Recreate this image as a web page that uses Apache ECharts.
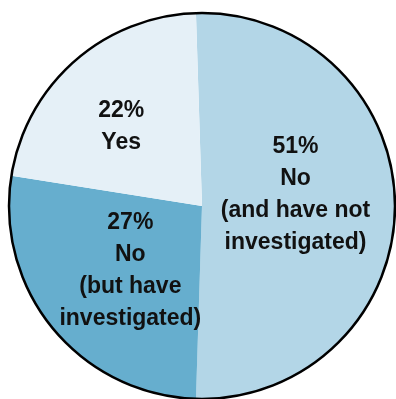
<!DOCTYPE html>
<html>
<head>
<meta charset="utf-8">
<script src="https://cdn.jsdelivr.net/npm/echarts@6/dist/echarts.min.js"></script>
<style>
  html, body { margin: 0; padding: 0; background: #ffffff; }
  #chart { width: 396px; height: 399px; }
</style>
</head>
<body>
<div id="chart"></div>
<script>
// Survey answers, clockwise from twelve o'clock
const categories = ['No\n(and have not\ninvestigated)', 'No\n(but have\ninvestigated)', 'Yes'];
const percents = [51, 27, 22];
const sliceColors = ['#b3d6e7', '#66aece', '#e5f0f7'];

const chart = echarts.init(document.getElementById('chart'), null, { renderer: 'canvas' });

const pieData = categories.map((name, i) => ({
  name: name,
  value: percents[i],
  itemStyle: { color: sliceColors[i] }
}));

// nudge each label block a little from the slice's mid-radius point
const labelNudge = [[-6, -11], [5, 1], [-15, -5]];

chart.setOption({
  animation: false,
  backgroundColor: '#ffffff',
  series: [
    {
      type: 'pie',
      center: [202, 206],
      radius: 193,
      startAngle: 91.8,
      clockwise: true,
      silent: true,
      data: pieData,
      itemStyle: { borderWidth: 0 },
      label: {
        show: true,
        position: 'inside',
        formatter: '{c}%\n{b}',
        color: '#111111',
        fontFamily: '"Liberation Sans", Arial, sans-serif',
        fontWeight: 'bold',
        fontSize: 23,
        lineHeight: 32,
        align: 'center'
      },
      labelLayout: function (params) {
        const n = labelNudge[params.dataIndex] || [0, 0];
        return { dx: n[0], dy: n[1] };
      },
      labelLine: { show: false },
      emphasis: { disabled: true }
    },
    {
      // outer rim of the pie
      type: 'pie',
      center: [202, 206],
      radius: 193,
      silent: true,
      z: 3,
      data: [{ value: 1, name: 'rim' }],
      itemStyle: { color: 'rgba(0,0,0,0)', borderColor: '#000000', borderWidth: 2.5 },
      label: { show: false },
      labelLine: { show: false },
      emphasis: { disabled: true }
    }
  ]
});
</script>
</body>
</html>
